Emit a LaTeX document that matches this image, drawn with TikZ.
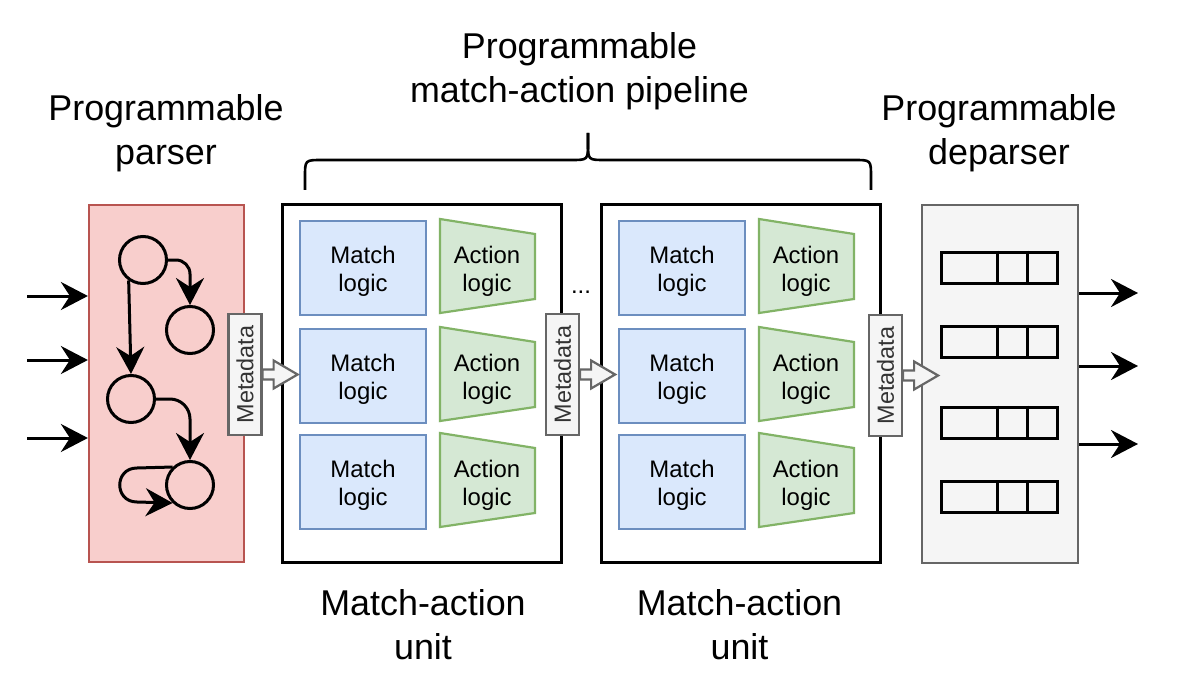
\documentclass[tikz,border=0pt]{standalone}
\usepackage{fontspec}
\setmainfont{Liberation Sans}
\usepackage{graphicx}
\usetikzlibrary{arrows.meta,calc}
\definecolor{redfill}{HTML}{F8CECC}
\definecolor{redline}{HTML}{B85450}
\definecolor{bluefill}{HTML}{DAE8FC}
\definecolor{blueline}{HTML}{6C8EBF}
\definecolor{greenfill}{HTML}{D5E8D4}
\definecolor{greenline}{HTML}{82B366}
\definecolor{grayfill}{HTML}{F5F5F5}
\definecolor{grayline}{HTML}{666666}
\definecolor{metatext}{HTML}{333333}
\begin{document}
\begin{tikzpicture}[x=1bp,y=-1bp,
  title/.style={align=center, font=\fontsize{36}{44}\selectfont, inner sep=0},
  smalltxt/.style={align=center, font=\fontsize{24}{28}\selectfont, inner sep=0},
  parserbox/.style={draw=redline, fill=redfill, line width=2.2bp, minimum width=155bp, minimum height=357bp, inner sep=0},
  deparserbox/.style={draw=grayline, fill=grayfill, line width=2.2bp, minimum width=156bp, minimum height=358bp, inner sep=0},
  maubox/.style={draw=black, fill=white, line width=3bp, minimum width=279bp, minimum height=357bp, inner sep=0},
  matchbox/.style={draw=blueline, fill=bluefill, line width=2.2bp, minimum width=126bp, minimum height=94bp, inner sep=0},
  actbox/.style={draw=greenline, fill=greenfill, line width=2.2bp, line join=miter},
  metabox/.style={draw=grayline, fill=grayfill, line width=2.2bp, minimum width=33bp, minimum height=121bp, inner sep=0, text=metatext, font=\fontsize{23.5}{28}\selectfont},
  barrow/.style={draw=grayline, fill=grayfill, line width=2.2bp, line join=miter},
  state/.style={circle, draw=black, line width=3bp, minimum size=47bp, inner sep=0},
  recbox/.style={draw=black, line width=3bp, minimum width=116bp, minimum height=31bp, inner sep=0},
  arr/.style={line width=3bp, -{Stealth[length=27bp, width=28bp, inset=9bp]}},
  bracesty/.style={line width=2.6bp, line cap=butt}
]
\useasboundingbox (0,0) rectangle (1195,687);

% titles
\node[title] (tpipe) at (579.5,70.9) {Programmable\\match-action pipeline};
\node[title] (tpar) at (166,132.9) {Programmable\\parser};
\node[title] (tdep) at (999,132.9) {Programmable\\deparser};
\node[title] (tmau1) at (423,625) {Match-action\\unit};
\node[title] (tmau2) at (739.5,625) {Match-action\\unit};

% brace
\draw[bracesty] (305,190) -- (305,177) .. controls (305,160) .. (322,160) -- (571,160) .. controls (588,160) .. (588,143) -- (588,133);
\draw[bracesty] (871,190) -- (871,177) .. controls (871,160) .. (854,160) -- (605,160) .. controls (588,160) .. (588,143) -- (588,133);

% main boxes
\node[parserbox] (parser) at (166.5,383.5) {};
\node[maubox] (mau1) at (421.5,383.5) {};
\node[maubox] (mau2) at (740.5,383.5) {};
\node[deparserbox] (dep) at (1000,384) {};

% match / action
\foreach \u/\dx in {1/0, 2/319} {
  \foreach \r/\ty in {1/221, 2/329, 3/435} {
    \node[matchbox, label={[smalltxt, yshift=-3bp]center:Match\\logic}] (m\u\r) at (363+\dx, \ty+47) {};
    \filldraw[actbox] (440+\dx, \ty-2) -- ++(95,15) -- ++(0,65) -- ++(-95,14) -- cycle;
    \node[smalltxt] (a\u\r) at (487+\dx, \ty+50) {Action\\logic};
  }
}
\node[smalltxt, anchor=base] (dots) at (581,293) {...};

% parser state machine
\node[state] (c1) at (143,260) {};
\node[state] (c2) at (190,330) {};
\node[state] (c3) at (131,399) {};
\node[state] (c4) at (190,485) {};
\draw[arr, rounded corners=14bp] (c1.east) -| (c2.north);
\draw[arr] (c1.235) -- (c3.north);
\draw[arr, rounded corners=20bp] (c3.east) -| (c4.north);
\draw[arr] (c4.134) -- (137,468) .. controls (114,468) and (114,502) .. (137,502) -- (c4.226);

% inputs
\foreach \i/\yy in {1/296, 2/360, 3/438} {
  \coordinate (in\i) at (27,\yy);
  \draw[arr] (in\i) -- (in\i -| parser.west);
}

% deparser records
\foreach \i/\yc in {1/267.5, 2/341.5, 3/422.5, 4/497} {
  \node[recbox] (r\i) at (999,\yc) {};
  \draw[line width=3bp] ($(r\i.north west)+(58,0)$) -- ($(r\i.south west)+(58,0)$);
  \draw[line width=3bp] ($(r\i.north west)+(88,0)$) -- ($(r\i.south west)+(88,0)$);
}

% outputs
\foreach \i/\yy in {1/293, 2/366, 3/444} {
  \coordinate (out\i) at (1138,\yy);
  \draw[arr] (out\i -| dep.east) -- (out\i);
}

% metadata
\node[metabox] (md1) at (245,374.5) {\rotatebox{90}{Metadata}};
\node[metabox] (md2) at (562.5,374.5) {\rotatebox{90}{Metadata}};
\node[metabox] (md3) at (885.5,375.5) {\rotatebox{90}{Metadata}};
\foreach \m in {md1, md2, md3} {
  \draw[barrow] ($(\m.east)+(0,-5)$) -- ++(11,0) -- ++(0,-9) -- ++(24,14) -- ++(-24,14) -- ++(0,-9) -- ++(-11,0) -- cycle;
}
\end{tikzpicture}
\end{document}
